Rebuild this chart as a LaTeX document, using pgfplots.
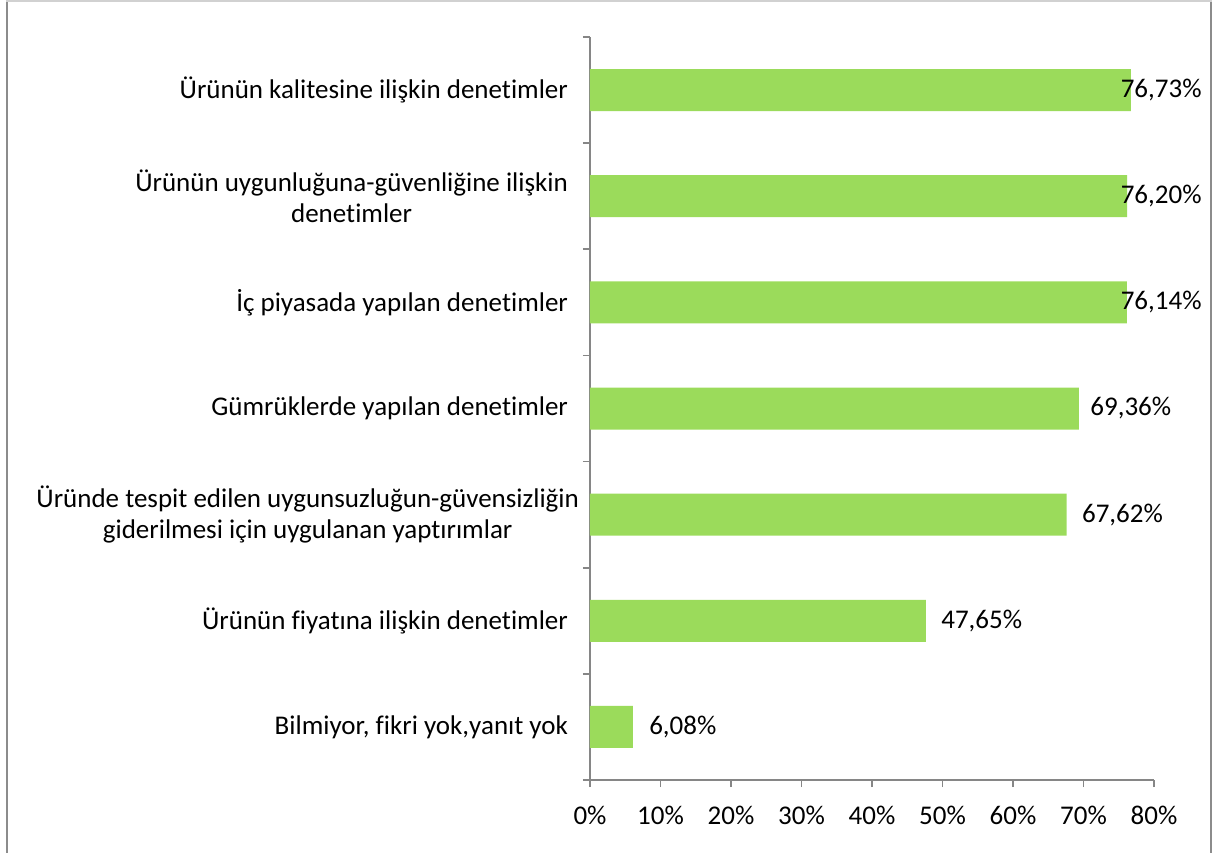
\documentclass[border=0pt]{standalone}
\usepackage{fontspec}
\setmainfont{Carlito}[RawFeature={-liga;-clig}]
\usepackage{pgfplots}
\pgfplotsset{compat=1.18}
\definecolor{barg}{RGB}{155,219,91}
\definecolor{axg}{RGB}{134,134,134}
\definecolor{frm}{RGB}{140,140,140}
\begin{document}
\begin{tikzpicture}
\path[use as bounding box] (-295pt,-36pt) rectangle (312pt,390pt);
\draw[frm,line width=1.2pt] (-291.5pt,-40pt) -- (-291.5pt,390pt);
\draw[frm,line width=1.2pt] (310.5pt,-40pt) -- (310.5pt,390pt);
\draw[frm!40,line width=1pt] (-292pt,389.7pt) -- (311pt,389.7pt);
\begin{axis}[xbar, at={(0,0)}, anchor=south west,
  scale only axis, width=282pt, height=371.5pt,
  xmin=0, xmax=80, ymin=-0.5, ymax=6.5,
  bar width=21pt, clip=false,
  axis x line=bottom, axis y line=left,
  axis line style={axg,line width=0.9pt,-},
  tick style={axg,line width=0.9pt},
  tick align=outside, major tick length=3.5pt, minor tick length=3.5pt,
  xtick={0,10,...,80},
  xticklabels={0\%,10\%,20\%,30\%,40\%,50\%,60\%,70\%,80\%},
  ytick={0,...,6}, major y tick style={draw=none},
  minor ytick={-0.5,0.5,...,6.5},
  yticklabels={Bilmiyor{,} fikri yok{,}yanıt yok,
    Ürünün fiyatına ilişkin denetimler,
    {Üründe tespit edilen uygunsuzluğun-güvensizliğin\hspace*{-5.5pt}\\giderilmesi için uygulanan yaptırımlar\hspace*{-5.5pt}},
    Gümrüklerde yapılan denetimler,
    İç piyasada yapılan denetimler,
    {Ürünün uygunluğuna-güvenliğine ilişkin\\denetimler},
    Ürünün kalitesine ilişkin denetimler},
  yticklabel style={align=center, font=\fontsize{13.5}{15.7}\selectfont, xshift=-4pt},
  xticklabel style={font=\fontsize{13.5}{15.7}\selectfont, yshift=-6pt},
  /pgf/number format/assume math mode=true,
]
\addplot[fill=barg, draw=none] coordinates {
  (6.08,0) (47.65,1) (67.62,2) (69.36,3) (76.14,4) (76.20,5) (76.73,6)
};
\begin{scope}[every node/.style={font=\fontsize{13.5}{15.7}\selectfont, inner sep=0pt}]
\node[anchor=west] at (axis cs:6.08,0) [xshift=8pt] {6,08\%};
\node[anchor=west] at (axis cs:47.65,1) [xshift=7.5pt] {47,65\%};
\node[anchor=west] at (axis cs:67.62,2) [xshift=7.5pt] {67,62\%};
\node[anchor=west] at (axis cs:69.36,3) [xshift=5.5pt] {69,36\%};
\node[anchor=east] at (axis cs:86.8,4) {76,14\%};
\node[anchor=east] at (axis cs:86.8,5) {76,20\%};
\node[anchor=east] at (axis cs:86.8,6) {76,73\%};
\end{scope}
\end{axis}
\end{tikzpicture}
\end{document}
